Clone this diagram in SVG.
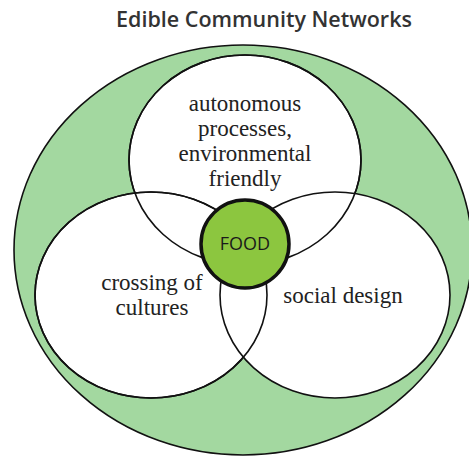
<svg xmlns="http://www.w3.org/2000/svg" width="469" height="457" viewBox="0 0 469 457">
<style>
.ring{fill:#fff;stroke:#111;stroke-width:1.6}
.lbl{font-family:"Liberation Serif",serif;font-size:23px;fill:#222;text-anchor:middle}
.title{font-family:"Open Sans",sans-serif;font-size:21.5px;font-weight:600;fill:#333;text-anchor:middle}
.food{font-family:"Open Sans",sans-serif;font-size:18px;fill:#1a1a1a;text-anchor:middle}
</style>
<rect width="469" height="457" fill="#fff"/>
<text class="title" x="264" y="27">Edible Community Networks</text>
<g id="outer"><ellipse cx="243" cy="250" rx="229" ry="205" fill="#a3d8a0" stroke="#111" stroke-width="1.6"/></g>
<g id="top"><ellipse class="ring" cx="245" cy="160" rx="116" ry="105"/></g>
<g id="left"><ellipse class="ring" cx="151" cy="295" rx="116" ry="103"/></g>
<g id="right"><ellipse class="ring" cx="335" cy="295" rx="115" ry="103"/></g>
<g id="outlines" fill="none" stroke="#111" stroke-width="1.6">
<ellipse cx="245" cy="160" rx="116" ry="105"/>
<ellipse cx="151" cy="295" rx="116" ry="103"/>
</g>
<g id="food"><circle cx="245" cy="244" r="44" fill="#8cc63f" stroke="#111" stroke-width="3.5"/>
<text class="food" x="245" y="250">FOOD</text></g>
<g id="labels">
<text class="lbl" x="245" y="111">autonomous</text>
<text class="lbl" x="245" y="136">processes,</text>
<text class="lbl" x="245" y="161">environmental</text>
<text class="lbl" x="245" y="186">friendly</text>
<text class="lbl" x="152" y="290">crossing of</text>
<text class="lbl" x="152" y="315">cultures</text>
<text class="lbl" x="343" y="303">social design</text>
</g>
</svg>
